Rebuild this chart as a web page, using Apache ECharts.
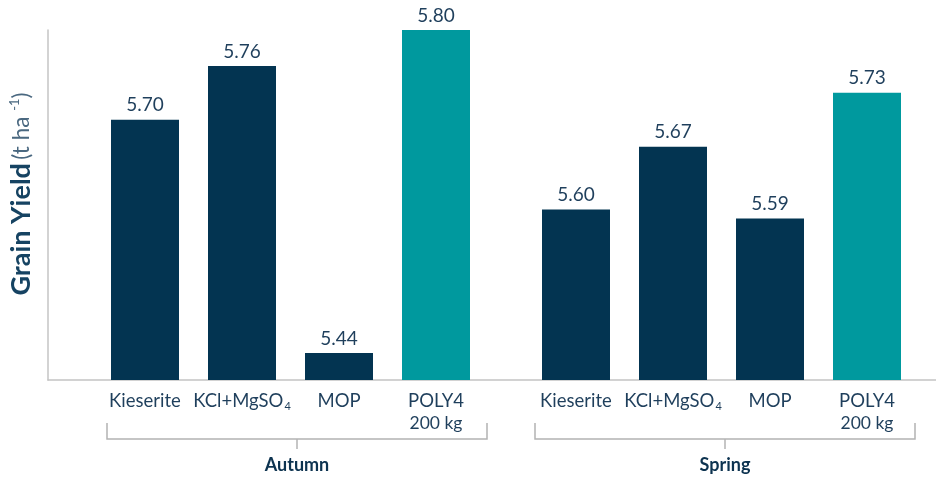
<!DOCTYPE html>
<html>
<head>
<meta charset="utf-8">
<script src="https://cdn.jsdelivr.net/npm/echarts@6/dist/echarts.min.js"></script>
<style>
html,body{margin:0;padding:0;background:#fff;}
#c{width:936px;height:477px;}
</style>
</head>
<body>
<div id="c"></div>
<script>
const groups = ['Autumn', 'Spring'];
const categories = ['Kieserite', 'KCl+MgSO4', 'MOP', 'POLY4 200 kg'];
const autumnValues = [5.70, 5.76, 5.44, 5.80];
const springValues = [5.60, 5.67, 5.59, 5.73];
const yMin = 5.41, yMax = 5.80;

const NAVY = '#033451';
const TEAL = '#00999e';
const TEXT = '#1f3f5c';
const LINE = '#c4c4c4';
const FONT = 'Lato';

function fmtCat(v) {
  if (v === 'KCl+MgSO4') return 'KCl+MgSO{sub|4}';
  if (v === 'POLY4 200 kg') return 'POLY4\n{s|200 kg}';
  return v;
}

const chart = echarts.init(document.getElementById('c'), null, {renderer: 'canvas'});

const gridTop = 30, gridBottom = 97;
const grids = [
  {left: 48, right: 0, top: gridTop, bottom: gridBottom},
  {left: 96.5, width: 388, top: gridTop, bottom: gridBottom},
  {left: 527.5, width: 388, top: gridTop, bottom: gridBottom}
];

function catAxis(idx) {
  return {
    type: 'category', gridIndex: idx, data: categories,
    axisLine: {show: false}, axisTick: {show: false},
    axisLabel: {
      interval: 0, formatter: fmtCat, margin: 10, color: TEXT, fontFamily: FONT, fontSize: 18.5, lineHeight: 22,
      rich: {
        sub: {fontSize: 11, color: TEXT, fontFamily: FONT, verticalAlign: 'bottom', padding: [10, 0, 0, 1]},
        s: {fontSize: 17.5, color: TEXT, fontFamily: FONT, lineHeight: 22}
      }
    }
  };
}
function valAxis(idx) {
  return {type: 'value', gridIndex: idx, min: yMin, max: yMax, show: false, splitLine: {show: false}};
}

function barSeries(idx, values) {
  return {
    type: 'bar', xAxisIndex: idx, yAxisIndex: idx, barWidth: 68,
    data: values.map((v, i) => ({value: v, itemStyle: {color: i === values.length - 1 ? TEAL : NAVY}})),
    label: {
      show: true, position: 'top', distance: 5, color: TEXT, fontFamily: FONT, fontSize: 19,
      formatter: p => p.value.toFixed(2)
    },
    silent: true
  };
}

// bracket geometry (style positions)
const brackets = [
  {x1: 107, x2: 487},
  {x1: 535, x2: 915}
];
const bTop = 423, bY = 439, bTick = 449, gLabelY = 465;
const graphics = [];
brackets.forEach((b, i) => {
  const mid = (b.x1 + b.x2) / 2;
  graphics.push({
    type: 'polyline', silent: true,
    shape: {points: [[b.x1, bTop], [b.x1, bY], [b.x2, bY], [b.x2, bTop]]},
    style: {stroke: '#b3b3b3', lineWidth: 1.5, fill: null}
  });
  graphics.push({
    type: 'line', silent: true,
    shape: {x1: mid, y1: bY, x2: mid, y2: bTick},
    style: {stroke: '#b3b3b3', lineWidth: 1.5}
  });
  graphics.push({
    type: 'text', silent: true, x: mid, y: gLabelY,
    style: {text: groups[i], fill: '#0d3350', font: 'bold 18px ' + FONT, textAlign: 'center', textVerticalAlign: 'middle'}
  });
});

chart.setOption({
  animation: false,
  grid: grids,
  xAxis: [
    {type: 'value', gridIndex: 0, min: 0, max: 1, axisLine: {show: true, onZero: false, lineStyle: {color: LINE, width: 1.5}},
     axisTick: {show: false}, axisLabel: {show: false}, splitLine: {show: false}},
    catAxis(1), catAxis(2)
  ],
  yAxis: [
    {type: 'value', gridIndex: 0, min: 0, max: 1, axisLine: {show: true, onZero: false, lineStyle: {color: LINE, width: 1.5}},
     axisTick: {show: false}, axisLabel: {show: false}, splitLine: {show: false},
     name: '{b|Grain Yield} {n|(t ha }{sup|-1}{n|)}', nameLocation: 'middle', nameRotate: 90, nameGap: 13,
     nameTextStyle: {
       padding: [0, 0, 0, 22],
       rich: {
         b: {fontSize: 27, fontWeight: 'bold', color: '#164362', fontFamily: FONT},
         n: {fontSize: 22.5, color: '#4a6880', fontFamily: FONT},
         sup: {fontSize: 13, color: '#4a6880', fontFamily: FONT, verticalAlign: 'top', padding: [0, 0, 10, 0]}
       }
     }},
    valAxis(1), valAxis(2)
  ],
  series: [barSeries(1, autumnValues), barSeries(2, springValues)],
  graphic: graphics
});
</script>
</body>
</html>
